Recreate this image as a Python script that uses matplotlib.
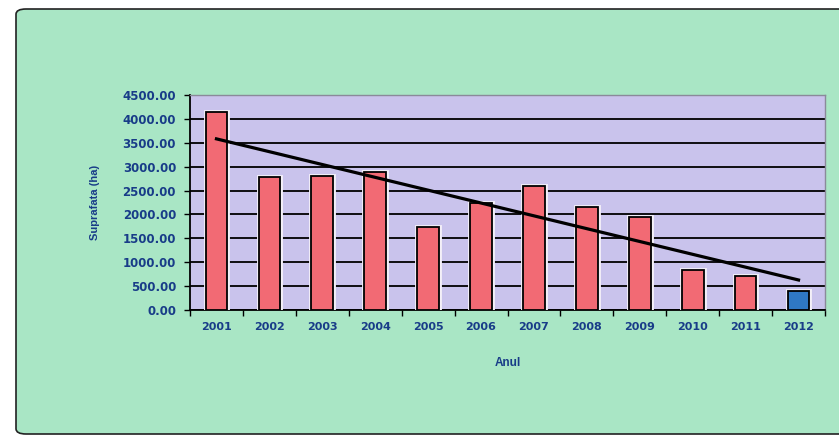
import numpy as np
import matplotlib
matplotlib.use("Agg")
import matplotlib.pyplot as plt
from matplotlib.patches import FancyBboxPatch
import matplotlib.patheffects as pe

years = ["2001", "2002", "2003", "2004", "2005", "2006", "2007", "2008", "2009", "2010", "2011", "2012"]
area_ha = [4150, 2790, 2810, 2880, 1730, 2250, 2600, 2150, 1950, 840, 710, 400]
y_ticks = [0, 500, 1000, 1500, 2000, 2500, 3000, 3500, 4000, 4500]

bar_red = "#f26a74"
bar_blue = "#2f78c4"
plot_bg = "#c9c3ec"
panel_green = "#a9e6c5"
text_blue = "#183c88"

fig = plt.figure(figsize=(8.39, 4.37), dpi=100)
fig.patch.set_facecolor("white")

panel = FancyBboxPatch((16 / 839, 1 - 434 / 437), 1.02, (434 - 9) / 437,
                       boxstyle="round,pad=0,rounding_size=0.012",
                       transform=fig.transFigure, facecolor=panel_green,
                       edgecolor="#222222", linewidth=1.2, zorder=-5)
fig.patches.append(panel)

ax = fig.add_axes([190 / 839, 1 - 310 / 437, (825 - 190) / 839, (310 - 95) / 437])
ax.set_zorder(5)
ax.set_facecolor(plot_bg)

x = np.arange(len(years))
colors = [bar_red] * (len(years) - 1) + [bar_blue]
bars = ax.bar(x, area_ha, width=0.41, color=colors, edgecolor="black", linewidth=1.3, zorder=3)
for b in bars:
    b.set_path_effects([pe.Stroke(linewidth=3.5, foreground="#f4f0f8"), pe.Normal()])

coef = np.polyfit(x, area_ha, 1)
trend = np.polyval(coef, x)
ax.plot(x, trend, color="black", linewidth=2.3, zorder=4)

ax.set_xlim(-0.5, len(years) - 0.5)
ax.set_ylim(0, 4500)
ax.set_yticks(y_ticks)
ax.set_yticklabels([f"{v:.2f}" for v in y_ticks])
ax.yaxis.grid(True, color="black", linewidth=1.3, zorder=1)
ax.set_axisbelow(True)

ax.set_xticks(x)
ax.set_xticklabels(years)
ax.set_xticks(np.arange(-0.5, len(years), 1), minor=True)
ax.tick_params(axis="x", which="major", length=0, pad=9)
ax.tick_params(axis="x", which="minor", length=4, width=1, color="black", direction="out")
ax.tick_params(axis="y", length=4, width=1, direction="out", pad=6)

for lab in ax.get_xticklabels() + ax.get_yticklabels():
    lab.set_fontweight("bold")
    lab.set_color(text_blue)
    lab.set_fontsize(8)
for lab in ax.get_yticklabels():
    lab.set_fontsize(8.5)

for side in ["left", "bottom"]:
    ax.spines[side].set_color("black")
    ax.spines[side].set_linewidth(1.3)
for side in ["top", "right"]:
    ax.spines[side].set_color("#8a8a9a")
    ax.spines[side].set_linewidth(1.0)

ax.set_xlabel("Anul", fontsize=8.5, fontweight="bold", color=text_blue,
              family="Liberation Sans", labelpad=18)
ax.set_ylabel("Suprafata (ha)", fontsize=8, fontweight="bold", color=text_blue,
              family="Liberation Sans", labelpad=16)

fig.savefig("out.png", dpi=100, facecolor=fig.get_facecolor())
